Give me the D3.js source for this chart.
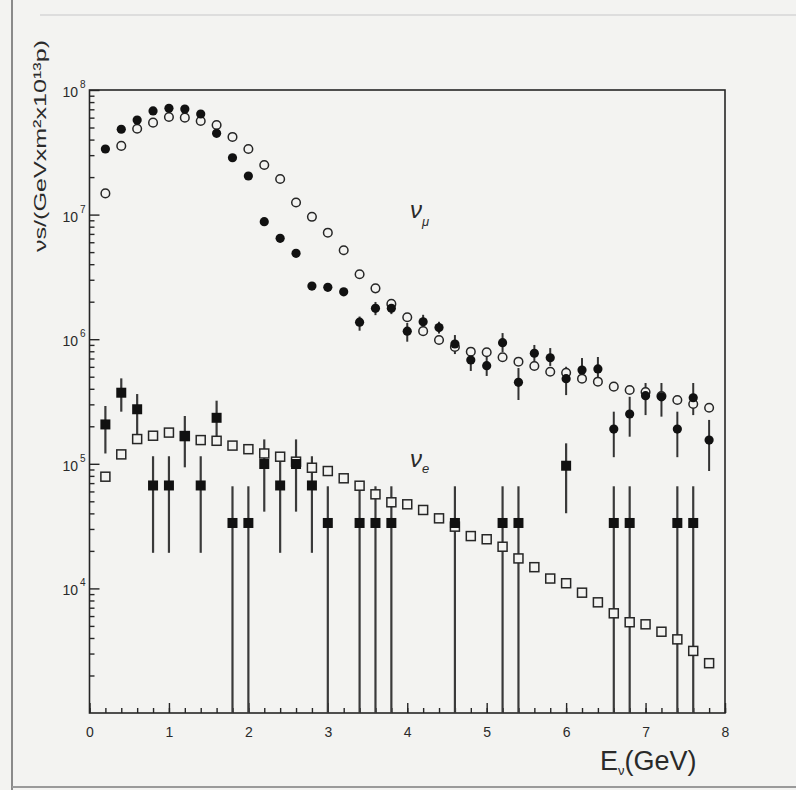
<!DOCTYPE html>
<html>
<head>
<meta charset="utf-8">
<script src="https://cdn.jsdelivr.net/npm/d3@7"></script>
<style>
  body { margin: 0; background: #f3f3f1; }
  svg text { font-family: "Liberation Sans", Arial, sans-serif; fill: #2a2a2a; }
</style>
</head>
<body>
<div class="chart"></div>
<script>
// neutrino energy bins (GeV)
const energy = [0.2, 0.4, 0.6, 0.8, 1.0, 1.2, 1.4, 1.6, 1.8, 2.0,
                2.2, 2.4, 2.6, 2.8, 3.0, 3.2, 3.4, 3.6, 3.8, 4.0,
                4.2, 4.4, 4.6, 4.8, 5.0, 5.2, 5.4, 5.6, 5.8, 6.0,
                6.2, 6.4, 6.6, 6.8, 7.0, 7.2, 7.4, 7.6, 7.8];

// nu_mu : open circles (prediction)
const numuMC = [1.48e7, 3.56e7, 4.89e7, 5.47e7, 6.07e7, 6.0e7, 5.64e7, 5.24e7, 4.2e7, 3.36e7,
                2.5e7, 1.93e7, 1.25e7, 9.6e6, 7.16e6, 5.17e6, 3.32e6, 2.56e6, 1.92e6, 1.5e6,
                1.16e6, 9.86e5, 8.66e5, 7.94e5, 7.85e5, 7.16e5, 6.6e5, 6.1e5, 5.48e5, 5.38e5,
                4.82e5, 4.56e5, 4.16e5, 3.91e5, 3.77e5, 3.5e5, 3.25e5, 3.02e5, 2.82e5];

// nu_mu : filled circles (measured)
const numuData = [3.36e7, 4.84e7, 5.74e7, 6.79e7, 7.13e7, 7.04e7, 6.42e7, 4.49e7, 2.86e7, 2.04e7,
                  8.77e6, 6.45e6, 4.89e6, 2.67e6, 2.61e6, 2.4e6, 1.37e6, 1.77e6, 1.77e6, 1.16e6,
                  1.38e6, 1.24e6, 9.15e5, 6.81e5, 6.13e5, 9.37e5, 4.51e5, 7.71e5, 7.1e5, 4.82e5,
                  5.66e5, 5.77e5, 1.9e5, 2.51e5, 3.52e5, 3.45e5, 1.9e5, 3.39e5, 1.55e5];
const numuErrLo = [null, null, null, null, null, null, null, null, null, null,
                   null, null, null, null, null, null, 1.17e6, 1.56e6, 1.59e6, 9.55e5,
                   1.21e6, 1.11e6, 7.6e5, 5.56e5, 5.07e5, 7.89e5, 3.25e5, 6.56e5, 6.1e5, 3.56e5,
                   4.53e5, 4.62e5, 1.13e5, 1.65e5, 2.46e5, 2.39e5, 1.13e5, 2.46e5, 8.75e4];
const numuErrHi = [null, null, null, null, null, null, null, null, null, null,
                   null, null, null, null, null, null, 1.52e6, 1.99e6, 1.96e6, 1.35e6,
                   1.57e6, 1.38e6, 1.08e6, 8.04e5, 7.33e5, 1.12e6, 5.87e5, 8.99e5, 8.49e5, 6.01e5,
                   7.06e5, 7.2e5, 2.62e5, 3.45e5, 4.45e5, 4.45e5, 2.62e5, 4.45e5, 2.25e5];

// nu_e : open squares (prediction)
const nueMC = [7.88e4, 1.19e5, 1.58e5, 1.68e5, 1.78e5, 1.67e5, 1.55e5, 1.53e5, 1.4e5, 1.31e5,
               1.21e5, 1.14e5, 1.04e5, 9.3e4, 8.75e4, 7.65e4, 6.67e4, 5.69e4, 4.91e4, 4.73e4,
               4.26e4, 3.65e4, 3.13e4, 2.63e4, 2.48e4, 2.16e4, 1.74e4, 1.48e4, 1.2e4, 1.1e4,
               9.24e3, 7.73e3, 6.31e3, 5.35e3, 5.15e3, 4.49e3, 3.9e3, 3.15e3, 2.51e3];

// nu_e : filled squares (measured), 0 lower error = bar down to the axis
const nueData = [2.07e5, 3.72e5, 2.74e5, 6.7e4, 6.7e4, 1.67e5, 6.7e4, 2.34e5, 3.35e4, 3.35e4,
                 9.96e4, 6.7e4, 9.96e4, 6.7e4, 3.35e4, null, 3.35e4, 3.35e4, 3.35e4, null,
                 null, null, 3.35e4, null, null, 3.35e4, 3.35e4, null, null, 9.65e4,
                 null, null, 3.35e4, 3.35e4, null, null, 3.35e4, 3.35e4, null];
const nueErrLo = [1.21e5, 2.62e5, 1.67e5, 1.93e4, 1.93e4, 9.37e4, 1.93e4, 1.55e5, 0, 0,
                  4.13e4, 1.93e4, 4.13e4, 1.93e4, 0, null, 0, 0, 0, null,
                  null, null, 0, null, null, 0, 0, null, null, 4.01e4,
                  null, null, 0, 0, null, null, 0, 0, null];
const nueErrHi = [2.91e5, 4.85e5, 3.63e5, 1.15e5, 1.15e5, 2.42e5, 1.15e5, 3.21e5, 6.6e4, 6.6e4,
                  1.57e5, 1.15e5, 1.57e5, 1.15e5, 6.6e4, null, 6.6e4, 6.6e4, 6.6e4, null,
                  null, null, 6.6e4, null, null, 6.6e4, 6.6e4, null, null, 1.46e5,
                  null, null, 6.6e4, 6.6e4, null, null, 6.6e4, 6.6e4, null];

const xTicks = [0, 1, 2, 3, 4, 5, 6, 7, 8];
const yTicks = [1e4, 1e5, 1e6, 1e7, 1e8];
const yExps = ["4", "5", "6", "7", "8"];

const width = 796, height = 790;
const ink = "#262626";

const svg = d3.select(".chart").append("svg")
  .attr("width", width)
  .attr("height", height);

// scanned page edges
svg.append("line").attr("x1", 12).attr("x2", 12).attr("y1", 0).attr("y2", height)
   .attr("stroke", "#8a8a8a").attr("stroke-width", 2);
svg.append("line").attr("x1", 12).attr("x2", width).attr("y1", 787).attr("y2", 787)
   .attr("stroke", "#9a9a9a").attr("stroke-width", 2);
svg.append("line").attr("x1", 40).attr("x2", width).attr("y1", 15).attr("y2", 15)
   .attr("stroke", "#d6d6d6").attr("stroke-width", 1.5);

const x = d3.scaleLinear().domain([0, 8]).range([89.5, 725]);
const y = d3.scaleLog().domain([1e3, 1e8]).range([713, 90]);

// frame
svg.append("rect")
   .attr("x", x(0)).attr("y", y(1e8))
   .attr("width", x(8) - x(0)).attr("height", y(1e3) - y(1e8))
   .attr("fill", "none").attr("stroke", ink).attr("stroke-width", 1.6);

// x axis: inward ticks
const xMinor = d3.range(0, 8.001, 0.2);
svg.append("g")
   .attr("transform", `translate(0,${y(1e3)})`)
   .call(d3.axisBottom(x).tickValues(xMinor).tickSize(-5).tickFormat(""))
   .call(g => g.select(".domain").remove())
   .selectAll("line").attr("stroke", ink).attr("stroke-width", 1.4);

svg.append("g")
   .attr("transform", `translate(0,${y(1e3)})`)
   .call(d3.axisBottom(x).tickValues(xTicks).tickSize(-10).tickPadding(14).tickFormat(d3.format("d")))
   .call(g => g.select(".domain").remove())
   .call(g => g.selectAll("line").attr("stroke", ink).attr("stroke-width", 1.4))
   .call(g => g.selectAll("text").attr("font-size", 14).attr("fill", ink)
                .attr("font-family", "Liberation Sans, Arial, sans-serif"));

// y axis: log ticks, inward
const yMinor = [];
[1e3, 1e4, 1e5, 1e6, 1e7].forEach(d => {
  for (let k = 2; k <= 9; k++) yMinor.push(k * d);
});
svg.append("g")
   .attr("transform", `translate(${x(0)},0)`)
   .call(d3.axisLeft(y).tickValues(yMinor).tickSize(-5).tickFormat(""))
   .call(g => g.select(".domain").remove())
   .selectAll("line").attr("stroke", ink).attr("stroke-width", 1.4);
svg.append("g")
   .attr("transform", `translate(${x(0)},0)`)
   .call(d3.axisLeft(y).tickValues(yTicks).tickSize(-10).tickFormat(""))
   .call(g => g.select(".domain").remove())
   .selectAll("line").attr("stroke", ink).attr("stroke-width", 1.4);

svg.append("g").selectAll("text")
  .data(yTicks)
  .enter()
  .append("text")
  .attr("x", 78)
  .attr("y", d => y(d) + 7)
  .attr("text-anchor", "end")
  .attr("font-size", 14)
  .text("10");
svg.append("g").selectAll("text")
  .data(yTicks)
  .enter()
  .append("text")
  .attr("x", 80)
  .attr("y", d => y(d) - 2)
  .attr("font-size", 10)
  .text((d, i) => yExps[i]);

// axis titles
svg.append("text")
   .attr("transform", "translate(46,252) rotate(-90)")
   .attr("font-size", 17)
   .attr("textLength", 212)
   .attr("lengthAdjust", "spacingAndGlyphs")
   .text("νs/(GeVxm²x10¹³p)");

const xt = svg.append("text").attr("x", 600).attr("y", 770).attr("font-size", 27);
xt.append("tspan").text("E");
xt.append("tspan").attr("font-size", 13).attr("dy", 5).text("ν");
xt.append("tspan").attr("dy", -5).text("(GeV)");

// series labels
const lm = svg.append("text").attr("x", 410).attr("y", 218)
  .attr("font-family", "DejaVu Serif, serif").attr("font-style", "italic").attr("font-size", 24);
lm.append("tspan").text("ν");
lm.append("tspan").attr("font-size", 13).attr("dy", 8).text("μ");
const le = svg.append("text").attr("x", 410).attr("y", 467)
  .attr("font-family", "DejaVu Serif, serif").attr("font-style", "italic").attr("font-size", 24);
le.append("tspan").text("ν");
le.append("tspan").attr("font-size", 13).attr("dy", 6).text("e");

const yc = v => y(Math.max(v, 1e3));

// error bars
const muBars = energy.map((e, i) => ({ e, lo: numuErrLo[i], hi: numuErrHi[i] })).filter(d => d.lo !== null);
svg.append("g").selectAll("line")
   .data(muBars)
   .enter()
   .append("line")
   .attr("x1", d => x(d.e)).attr("x2", d => x(d.e))
   .attr("y1", d => yc(d.lo)).attr("y2", d => yc(d.hi))
   .attr("stroke", "#333").attr("stroke-width", 2);

const eBars = energy.map((e, i) => ({ e, lo: nueErrLo[i], hi: nueErrHi[i] })).filter(d => d.lo !== null);
svg.append("g").selectAll("line")
   .data(eBars)
   .enter()
   .append("line")
   .attr("x1", d => x(d.e)).attr("x2", d => x(d.e))
   .attr("y1", d => yc(d.lo)).attr("y2", d => yc(d.hi))
   .attr("stroke", "#3a3a3a").attr("stroke-width", 2.2);

// nu_e prediction: open squares
svg.append("g").selectAll("rect")
   .data(energy.map((e, i) => ({ e, v: nueMC[i] })))
   .enter()
   .append("rect")
   .attr("x", d => x(d.e) - 4.5).attr("y", d => y(d.v) - 4.5)
   .attr("width", 9).attr("height", 9)
   .attr("fill", "#f3f3f1").attr("stroke", ink).attr("stroke-width", 1.5);

// nu_e measured: filled squares
svg.append("g").selectAll("rect")
   .data(energy.map((e, i) => ({ e, v: nueData[i] })).filter(d => d.v !== null))
   .enter()
   .append("rect")
   .attr("x", d => x(d.e) - 5).attr("y", d => y(d.v) - 5)
   .attr("width", 10).attr("height", 10)
   .attr("fill", "#111");

// nu_mu prediction: open circles
svg.append("g").selectAll("circle")
   .data(energy.map((e, i) => ({ e, v: numuMC[i] })))
   .enter()
   .append("circle")
   .attr("cx", d => x(d.e)).attr("cy", d => y(d.v))
   .attr("r", 4.3)
   .attr("fill", "#f3f3f1").attr("stroke", ink).attr("stroke-width", 1.5);

// nu_mu measured: filled circles
svg.append("g").selectAll("circle")
   .data(energy.map((e, i) => ({ e, v: numuData[i] })))
   .enter()
   .append("circle")
   .attr("cx", d => x(d.e)).attr("cy", d => y(d.v))
   .attr("r", 4.6)
   .attr("fill", "#111");
</script>
</body>
</html>
